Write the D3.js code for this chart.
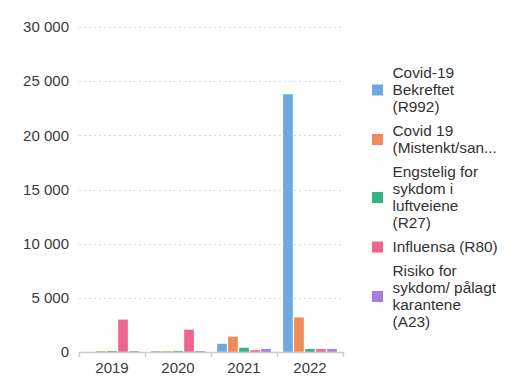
<!DOCTYPE html>
<html><head><meta charset="utf-8">
<script src="https://cdn.jsdelivr.net/npm/d3@7"></script>
<style>body{margin:0;background:#fff;font-family:"Liberation Sans",Arial,sans-serif;}</style>
</head><body><svg id="c" width="522" height="385"></svg>
<script>
const years = ["2019","2020","2021","2022"];
const seriesNames = ["Covid-19 Bekreftet (R992)","Covid 19 (Mistenkt/san...","Engstelig for sykdom i luftveiene (R27)","Influensa (R80)","Risiko for sykdom/ pålagt karantene (A23)"];
const legendLines = [["Covid-19","Bekreftet","(R992)"],["Covid 19","(Mistenkt/san..."],["Engstelig for","sykdom i","luftveiene","(R27)"],["Influensa (R80)"],["Risiko for","sykdom/ pålagt","karantene","(A23)"]];
const colors = ["#6fa8e0","#f08a5a","#37b283","#ee6590","#a67cdc"];
const covidBekreftet = [0, 90, 760, 23800];
const covidMistenkt = [90, 90, 1430, 3200];
const engstelig = [100, 100, 400, 280];
const influensa = [3000, 2070, 180, 280];
const risiko = [90, 90, 280, 280];
const yTicks = [0,5000,10000,15000,20000,25000,30000];
const values = [covidBekreftet, covidMistenkt, engstelig, influensa, risiko];

const svg = d3.select("#c");
const x = d3.scaleBand().domain(years).range([79,343]).paddingInner(0).paddingOuter(0);
const x1 = d3.scaleBand().domain(d3.range(5)).range([6, x.bandwidth()-6]).paddingInner(0.1);
const y = d3.scaleLinear().domain([0,30000]).range([352,27]);
const fmt = v => d3.format(",")(v).replace(/,/g," ");

// grid
svg.append("g").selectAll("line").data(yTicks.filter(d=>d>0)).join("line")
  .attr("x1",79).attr("x2",343).attr("y1",d=>Math.round(y(d))+0.5).attr("y2",d=>Math.round(y(d))+0.5)
  .attr("stroke","#d8d8d8").attr("stroke-dasharray","2,3");
// y labels
svg.append("g").selectAll("text").data(yTicks).join("text")
  .attr("x",69).attr("y",d=>y(d)).attr("dy","0.35em").attr("text-anchor","end")
  .attr("font-size",15).attr("fill","#3a3a3a").text(fmt);

// bars
years.forEach((yr,i)=>{
  const g = svg.append("g").attr("transform",`translate(${x(yr)},0)`);
  g.selectAll("rect").data(values.map((s,k)=>({k,v:s[i]}))).join("rect")
    .attr("x",d=>x1(d.k)).attr("width",x1.bandwidth())
    .attr("y",d=>y(d.v)).attr("height",d=>y(0)-y(d.v))
    .attr("fill",d=>colors[d.k]).attr("stroke","#fff").attr("stroke-opacity",0.4).attr("stroke-width",0.5);
});

// x axis
const xa = svg.append("g");
xa.append("line").attr("x1",79).attr("x2",343).attr("y1",352.5).attr("y2",352.5).attr("stroke","#ccc").attr("stroke-width",1.5);
const bounds = years.map(d=>x(d)).concat([x(years[3])+x.bandwidth()]);
xa.selectAll(".tk").data(bounds).join("line").attr("class","tk")
  .attr("x1",d=>Math.round(d)+0.5).attr("x2",d=>Math.round(d)+0.5).attr("y1",352).attr("y2",357)
  .attr("stroke","#ccc").attr("stroke-width",1.5);
xa.selectAll("text").data(years).join("text")
  .attr("x",d=>x(d)+x.bandwidth()/2).attr("y",368).attr("dy","0.35em").attr("text-anchor","middle")
  .attr("font-size",15).attr("fill","#3a3a3a").text(d=>d);

// legend
const lh = 17;
let cy = 73;
const lg = svg.append("g");
legendLines.forEach((lines,k)=>{
  const n = lines.length;
  const mid = cy + (n-1)*lh/2;
  lg.append("rect").attr("x",372).attr("y",mid-5.5).attr("width",11).attr("height",11).attr("fill",colors[k]);
  lines.forEach((t,j)=>{
    lg.append("text").attr("x",392.5).attr("y",cy+j*lh).attr("dy","0.35em")
      .attr("font-size",15.4).attr("fill","#333").text(t);
  });
  cy += (n-1)*lh + 24;
});
</script></body></html>
